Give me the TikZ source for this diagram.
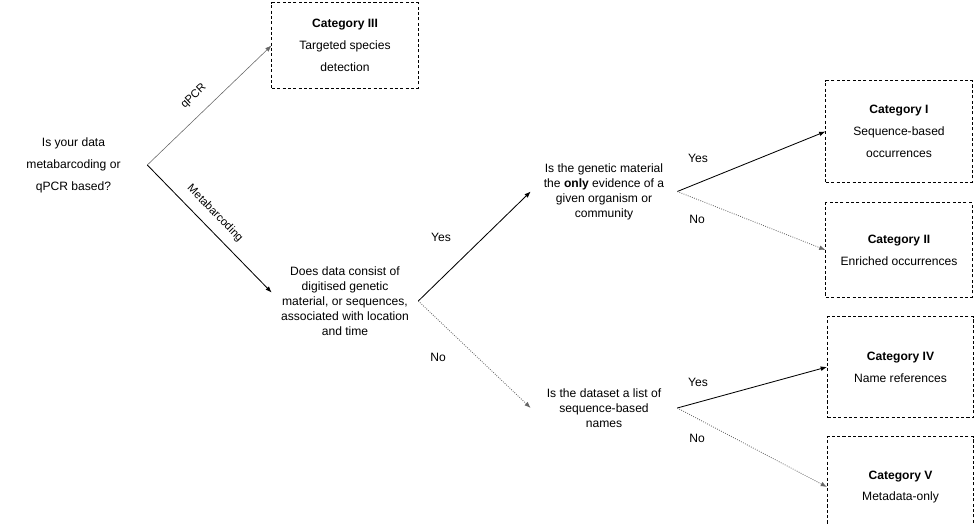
\documentclass[tikz,border=0pt]{standalone}
\usepackage{fontspec}
\setmainfont{Liberation Sans}
\usetikzlibrary{arrows.meta}

\tikzset{
    quest/.style={align=center, inner sep=0pt, font=\fontsize{8.6}{10.7}\selectfont},
    catbox/.style={draw, dash pattern=on 2.2pt off 1.6pt, line width=0.7pt, align=center,
        inner sep=0pt, minimum width=3.65cm, font=\fontsize{8.6}{15.6}\selectfont},
    tip/.style={-{Latex[length=4.5pt,width=3.4pt]}},
    yesarrow/.style={tip, line width=0.6pt},
    noarrow/.style={tip, densely dotted, black!60, line width=0.6pt},
    answer/.style={font=\fontsize{8.6}{10}\selectfont},
}

\begin{document}
\begin{tikzpicture}[x=0.025cm, y=-0.025cm]
        \clip (0,0) rectangle (974,525);

        % questions
        \node[quest, minimum width=3.675cm, font=\fontsize{8.6}{15.6}\selectfont] (q1) at (73.5,165) {Is your data\\metabarcoding or\\qPCR based?};
        \node[quest, minimum width=3.65cm] (q2) at (345,301) {Does data consist of\\digitised genetic\\material, or sequences,\\associated with location\\and time};
        \node[quest, minimum width=3.65cm] (q3) at (604,191.5) {Is the genetic material\\the \textbf{only} evidence of a\\given organism or\\community};
        \node[quest, minimum width=3.65cm] (q4) at (604,408) {Is the dataset a list of\\sequence-based\\names};

        % categories
        \node[catbox, minimum height=2.125cm] (c3) at (345,45.5) {\textbf{Category III}\\Targeted species\\detection};
        \node[catbox, minimum height=2.525cm] (c1) at (899,131.5) {\textbf{Category I}\\Sequence-based\\occurrences};
        \node[catbox, minimum height=2.35cm] (c2) at (899,250) {\textbf{Category II}\\Enriched occurrences};
        \node[catbox, minimum height=2.5cm] (c4) at (900.5,367) {\textbf{Category IV}\\Name references};
        \node[catbox, minimum height=2.5cm] (c5) at (900.5,487) {\textbf{Category V}\\Metadata-only};

        % connectors
        \draw[tip, black!60, line width=0.4pt] (q1.east) -- (c3.west)
            node[pos=0.47, sloped, above=5pt, font=\fontsize{8}{9}\selectfont, black] {qPCR};
        \draw[yesarrow] (q1.east) -- ([yshift=6pt]q2.west)
            node[pos=0.46, sloped, above=3pt, font=\fontsize{8}{9}\selectfont] {Metabarcoding};
        \draw[yesarrow] (q2.east) -- (q3.west);
        \draw[noarrow] (q2.east) -- (q4.west);
        \draw[yesarrow] (q3.east) -- (c1.west);
        \draw[noarrow] (q3.east) -- (c2.west);
        \draw[yesarrow] (q4.east) -- (c4.west);
        \draw[noarrow] (q4.east) -- (c5.west);

        % answers
        \node[answer] (y2) at (441,237) {Yes};
        \node[answer] (n2) at (438,357) {No};
        \node[answer] (y3) at (698,158) {Yes};
        \node[answer] (n3) at (697,219) {No};
        \node[answer] (y4) at (698,382) {Yes};
        \node[answer] (n4) at (697,438) {No};
\end{tikzpicture}
\end{document}
